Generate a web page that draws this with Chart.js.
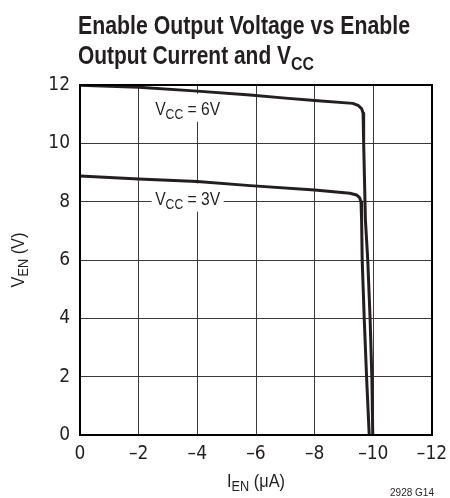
<!DOCTYPE html>
<html>
<head>
<meta charset="utf-8">
<script src="https://cdn.jsdelivr.net/npm/chart.js@4"></script>
<style>
	html, body { margin: 0; padding: 0; background: #fff; }
	#wrap { width: 450px; height: 498px; position: relative; }
</style>
</head>
<body>
<div id="wrap"><canvas id="chart" width="450" height="498"></canvas></div>
<script>
	var FONT = '"Liberation Sans", Arial, sans-serif';
	var TICKFONT = '"DejaVu Sans Condensed", "Liberation Sans", sans-serif';
	var INK = '#231f20';

	// V_EN vs I_EN
	var iEn6 = [0, -2, -4, -5.8, -7, -8, -9.3, -9.48, -9.6, -9.65, -9.67, -9.73, -9.81, -9.89, -9.95, -9.98];
	var vEn6 = [11.99, 11.92, 11.79, 11.66, 11.55, 11.47, 11.37, 11.3, 11.19, 11.04, 10.02, 7.37, 6.0, 3.98, 1.98, 0];
	var iEn3 = [0, -2, -4, -5.8, -8, -9.2, -9.43, -9.53, -9.58, -9.6, -9.62, -9.69, -9.77, -9.86];
	var vEn3 = [8.88, 8.78, 8.69, 8.55, 8.4, 8.29, 8.23, 8.14, 8.0, 7.37, 6.0, 3.98, 1.98, 0];

	var xTicks = [0, -2, -4, -6, -8, -10, -12];
	var yTicks = [0, 2, 4, 6, 8, 10, 12];

	function pts(xs, ys) {
		return xs.map(function(x, i){ return {x: x, y: ys[i]}; });
	}

	// text with subscript parts, squeezed horizontally to the given width
	function drawSub(ctx, parts, x, y, size, weight, align, width) {
		var subSize = Math.round(size * 0.75);
		var w = 0;
		parts.forEach(function(p) {
			ctx.font = weight + ' ' + (p[1] ? subSize : size) + 'px ' + FONT;
			w += ctx.measureText(p[0]).width;
		});
		var k = width ? width / w : 1;
		var left = align === 'center' ? x - w * k / 2 : (align === 'right' ? x - w * k : x);
		ctx.save();
		ctx.translate(left, y);
		ctx.scale(k, 1);
		ctx.textAlign = 'left';
		ctx.textBaseline = 'alphabetic';
		var cx = 0;
		parts.forEach(function(p) {
			ctx.font = weight + ' ' + (p[1] ? subSize : size) + 'px ' + FONT;
			ctx.fillText(p[0], cx, p[1] ? size * 0.24 : 0);
			cx += ctx.measureText(p[0]).width;
		});
		ctx.restore();
		return {left: left, right: left + w * k};
	}

	var textPlugin = {
		id: 'texts',
		beforeDatasetsDraw: function(chart) {
			var ctx = chart.ctx;
			var xs = chart.scales.x, ys = chart.scales.y;
			var labels = [
				{parts: [['V', false], ['CC', true], [' = 6V', false]], x: -3.67, y: 10.98},
				{parts: [['V', false], ['CC', true], [' = 3V', false]], x: -3.67, y: 7.9}
			];
			ctx.save();
			labels.forEach(function(l) {
				var px = xs.getPixelForValue(l.x), py = ys.getPixelForValue(l.y);
				ctx.fillStyle = '#fff';
				ctx.fillRect(px - 36, py - 21, 72, 28);
				ctx.fillStyle = INK;
				drawSub(ctx, l.parts, px, py, 18, 'normal', 'center', 65);
			});
			ctx.restore();
		},
		afterDraw: function(chart) {
			var ctx = chart.ctx;
			var a = chart.chartArea;
			ctx.save();
			ctx.fillStyle = INK;
			drawSub(ctx, [['Enable Output Voltage vs Enable', false]], 78, 34, 25, 'bold', 'left', 332);
			drawSub(ctx, [['Output Current and V', false], ['CC', true]], 78, 64, 25, 'bold', 'left', 236);
			drawSub(ctx, [['I', false], ['EN', true], [' (μA)', false]], (a.left + a.right) / 2, 487, 18, 'normal', 'center', 58);
			ctx.translate(24, (a.top + a.bottom) / 2);
			ctx.rotate(-Math.PI / 2);
			drawSub(ctx, [['V', false], ['EN', true], [' (V)', false]], 0, 0, 18, 'normal', 'center', 55);
			ctx.restore();
			ctx.save();
			ctx.fillStyle = INK;
			drawSub(ctx, [['2928 G14', false]], 434, 496, 11, 'normal', 'right', 44);
			ctx.restore();
		}
	};

	function lineSet(data) {
		return {
			data: data,
			showLine: true,
			borderColor: INK,
			borderWidth: 3,
			pointRadius: 0,
			tension: 0,
			borderJoinStyle: 'round',
			borderCapStyle: 'round'
		};
	}

	var chart = new Chart(document.getElementById('chart'), {
		type: 'scatter',
		data: {
			datasets: [lineSet(pts(iEn6, vEn6)), lineSet(pts(iEn3, vEn3))]
		},
		options: {
			responsive: false,
			animation: false,
			events: [],
			layout: { padding: { top: 85, right: 18, bottom: 0, left: 0 } },
			plugins: { legend: { display: false }, tooltip: { enabled: false } },
			scales: {
				x: {
					type: 'linear',
					reverse: true,
					min: -12, max: 0,
					afterFit: function(s) { s.height = 63; s.paddingLeft = 0; s.paddingRight = 0; },
					afterBuildTicks: function(s) { s.ticks = xTicks.map(function(v){ return {value: v}; }); },
					grid: { color: '#3a3a3a', lineWidth: 1, drawTicks: false },
					border: { color: '#000', width: 2 },
					ticks: {
						padding: 8,
						color: INK,
						font: { family: TICKFONT, size: 19 },
						callback: function(v) { return v < 0 ? '–' + Math.abs(v) : String(v); }
					}
				},
				y: {
					min: 0, max: 12,
					afterFit: function(s) { s.width = 80; s.paddingTop = 0; s.paddingBottom = 0; },
					afterBuildTicks: function(s) { s.ticks = yTicks.map(function(v){ return {value: v}; }); },
					grid: { color: '#3a3a3a', lineWidth: 1, drawTicks: false },
					border: { color: '#000', width: 2 },
					ticks: {
						padding: 10,
						color: INK,
						font: { family: TICKFONT, size: 19 }
					}
				}
			}
		},
		plugins: [textPlugin, {
			id: 'frame',
			afterDatasetsDraw: function(chart) {
				var ctx = chart.ctx, a = chart.chartArea;
				ctx.save();
				ctx.strokeStyle = '#000';
				ctx.lineWidth = 2;
				ctx.strokeRect(a.left, a.top, a.right - a.left, a.bottom - a.top);
				ctx.restore();
			}
		}]
	});
</script>
</body>
</html>
